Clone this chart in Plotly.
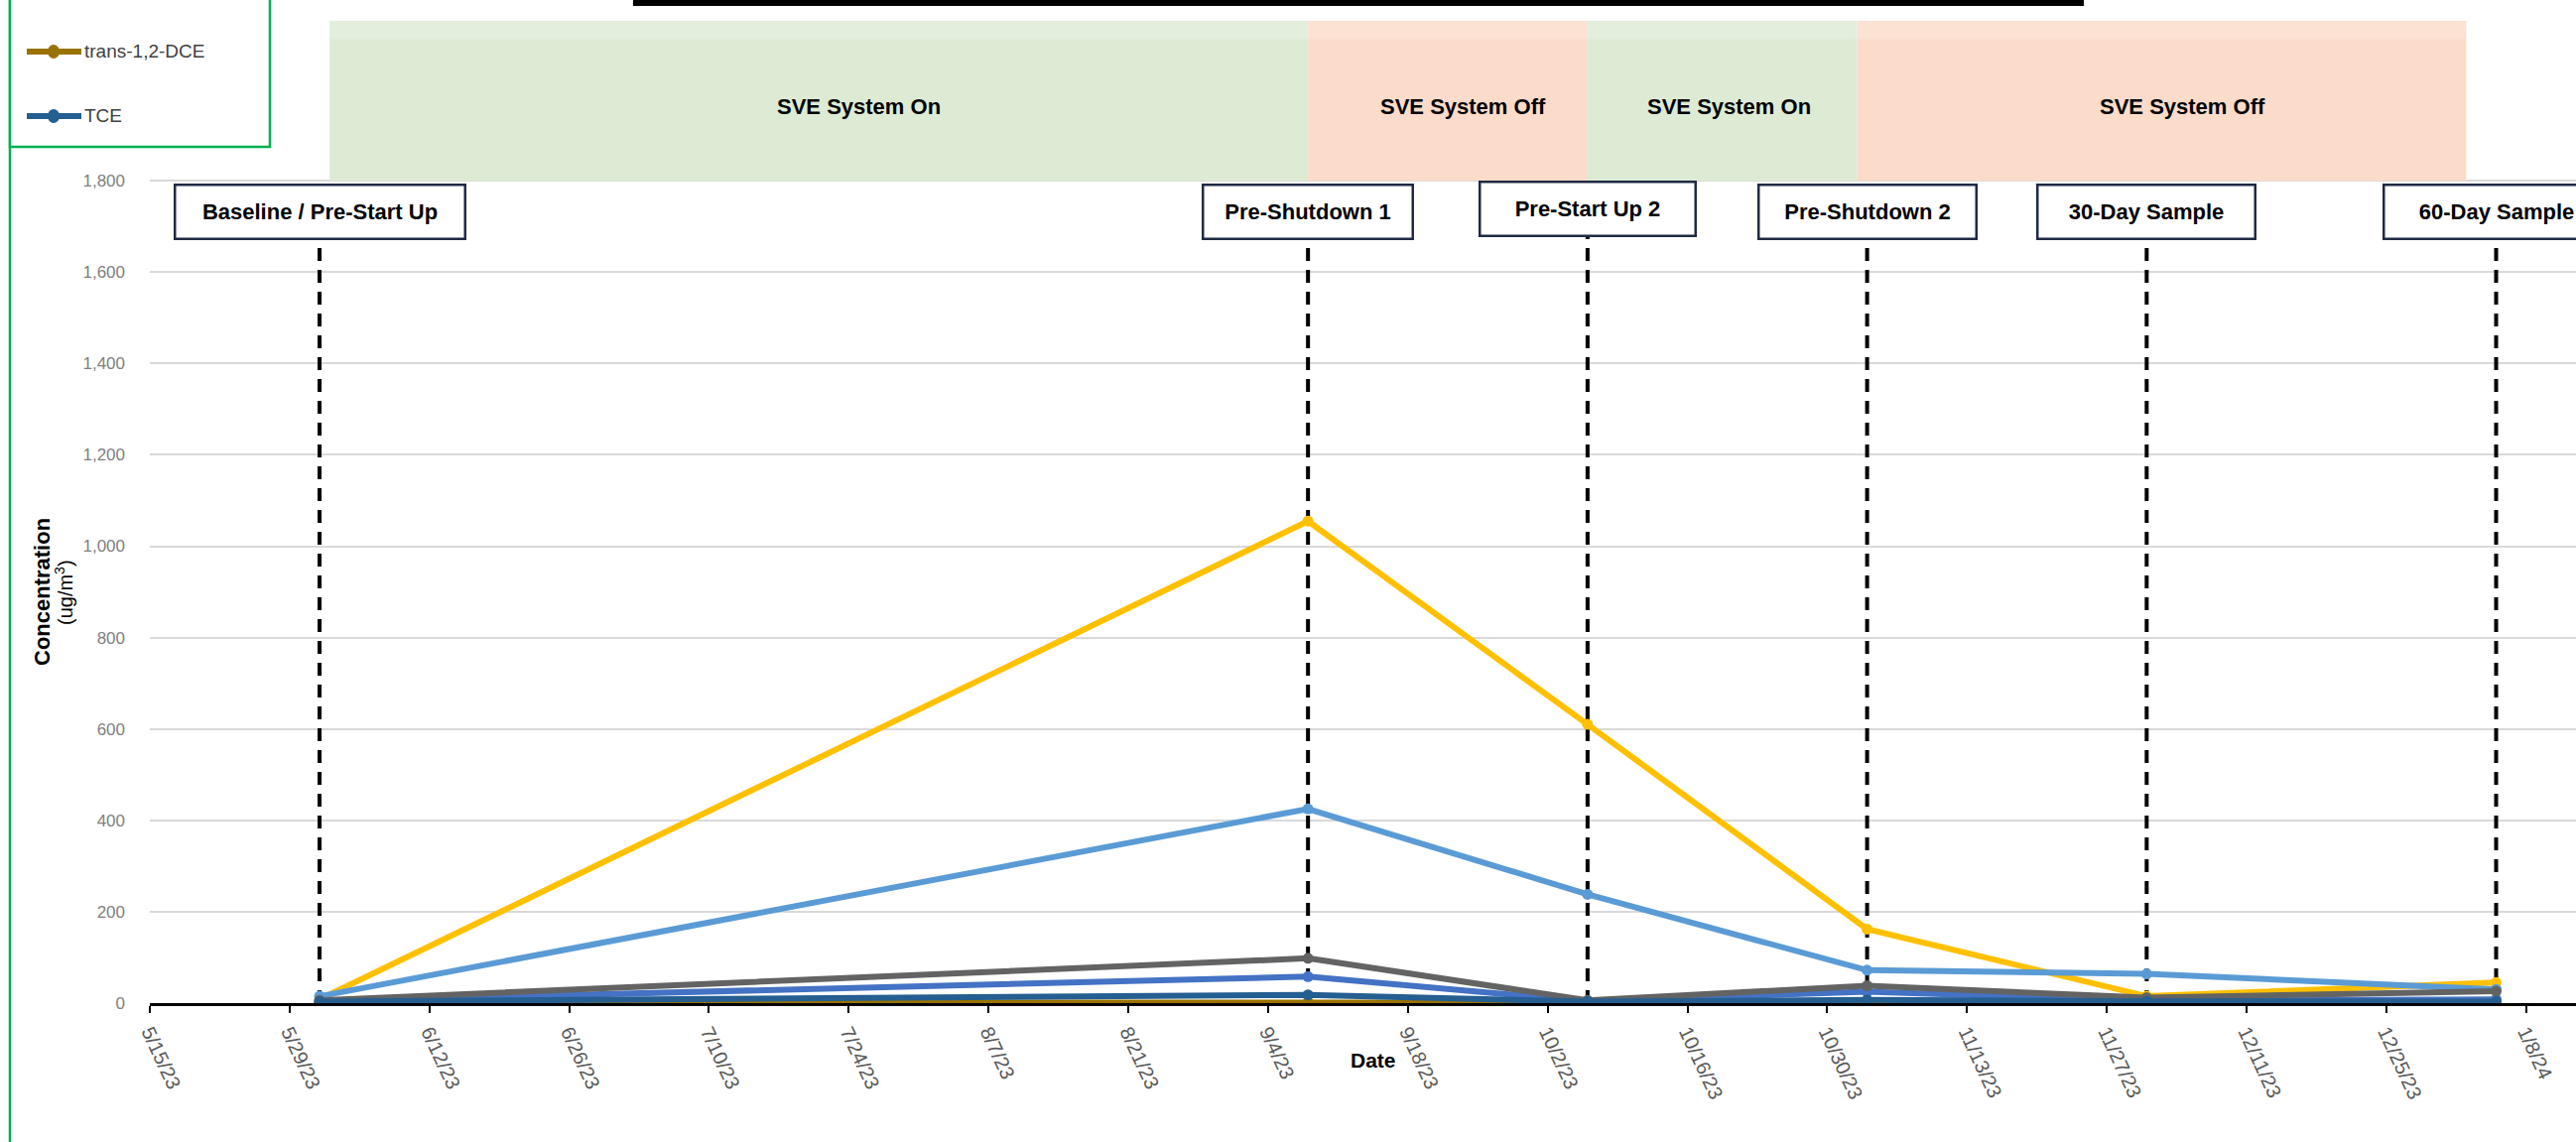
import plotly.graph_objects as go

# ---------------- data ----------------
sample_dates = ["2023-06-01", "2023-09-08", "2023-10-06", "2023-11-03", "2023-12-01", "2024-01-05"]
sample_labels = ["Baseline / Pre-Start Up", "Pre-Shutdown 1", "Pre-Start Up 2",
                 "Pre-Shutdown 2", "30-Day Sample", "60-Day Sample"]

series_names = ["Series 1", "Series 4", "Series 5", "Series 9", "trans-1,2-DCE", "TCE"]
series_colors = ["#4472C4", "#FFC000", "#5B9BD5", "#636363", "#997300", "#255E91"]
medblue_vals = [4, 58, 4, 25, 5, 8]
yellow_vals = [8, 1055, 610, 162, 15, 45]
lightblue_vals = [15, 425, 238, 72, 64, 30]
gray_vals = [6, 98, 6, 38, 12, 26]
dce_vals = [1, 2, 1, 1, 1, 1]
tce_vals = [3, 18, 3, 7, 4, 3]
series_values = [medblue_vals, yellow_vals, lightblue_vals, gray_vals, dce_vals, tce_vals]

phase_starts = ["2023-06-02", "2023-09-08", "2023-10-06", "2023-11-02"]
phase_ends = ["2023-09-08", "2023-10-06", "2023-11-02", "2024-01-02"]
phase_labels = ["SVE System On", "SVE System Off", "SVE System On", "SVE System Off"]
phase_label_x = ["2023-07-25", "2023-09-23 12:00", "2023-10-20 05:00", "2023-12-04 14:00"]
phase_colors = ["#DDEBD5", "#FBDCCA", "#DDEBD5", "#FBDCCA"]

y_ticks = [0, 200, 400, 600, 800, 1000, 1200, 1400, 1600, 1800]

# ---------------- layout geometry ----------------
FW, FH = 2596, 1151
L, R, T, B = 151, 0, 21, 140
W, H = FW - L - R, FH - T - B


def px_x(px):
    return (px - L) / W


def px_y(py):
    return (T + H - py) / H


FONT = "Liberation Sans, Arial, sans-serif"

fig = go.Figure()
for name, color, vals in zip(series_names, series_colors, series_values):
    fig.add_trace(go.Scatter(
        x=sample_dates, y=vals, name=name, mode="lines+markers",
        line=dict(color=color, width=6),
        marker=dict(color=color, size=11, symbol="circle"),
        showlegend=False,
    ))

shapes = []
# phase shading above the data area
for x0, x1, c in zip(phase_starts, phase_ends, phase_colors):
    shapes.append(dict(type="rect", xref="x", yref="y", x0=x0, x1=x1, y0=1800, y1=2150,
                       fillcolor=c, line=dict(width=0), layer="between"))
# faint lighter fade strip at the top
shapes.append(dict(type="rect", xref="x", yref="y", x0=phase_starts[0], x1=phase_ends[-1],
                   y0=2110, y1=2150, fillcolor="white", opacity=0.18,
                   line=dict(width=0), layer="between"))

# dashed sample-event lines
for d in sample_dates:
    shapes.append(dict(type="line", xref="x", yref="y", x0=d, x1=d, y0=0, y1=1700,
                       line=dict(color="black", width=4, dash="13px,9px"), layer="between"))

# top black bar (cut-off title underline)
shapes.append(dict(type="rect", xref="paper", yref="paper", x0=px_x(638), x1=px_x(2100),
                   y0=px_y(6), y1=px_y(-3), fillcolor="black", line=dict(width=0)))

# green frame (left) and legend box
shapes.append(dict(type="line", xref="paper", yref="paper", x0=px_x(10), x1=px_x(10),
                   y0=px_y(FH + 5), y1=px_y(-5), line=dict(color="#00B050", width=2.5)))
shapes.append(dict(type="rect", xref="paper", yref="paper", x0=px_x(10), x1=px_x(272),
                   y0=px_y(148), y1=px_y(-20), fillcolor="white",
                   line=dict(color="#00B050", width=2.5)))

annotations = []
# legend entries (manual, only the visible part of the legend)
legend_items = [("trans-1,2-DCE", "#997300", 52), ("TCE", "#255E91", 117)]
for txt, col, py in legend_items:
    shapes.append(dict(type="line", xref="paper", yref="paper", x0=px_x(27), x1=px_x(82),
                       y0=px_y(py), y1=px_y(py), line=dict(color=col, width=6)))
    shapes.append(dict(type="circle", xref="paper", yref="paper", xsizemode="pixel",
                       ysizemode="pixel", xanchor=px_x(54), yanchor=px_y(py),
                       x0=-6, x1=6, y0=-7, y1=7, fillcolor=col, line=dict(width=0)))
    annotations.append(dict(xref="paper", yref="paper", x=px_x(83), y=px_y(py),
                            xanchor="left", yanchor="middle", showarrow=False, text=txt,
                            font=dict(family=FONT, size=19, color="#404040")))

# phase labels
for x, t in zip(phase_label_x, phase_labels):
    annotations.append(dict(x=x, y=1962, xref="x", yref="y", text="<b>%s</b>" % t,
                            xanchor="center", yanchor="middle",
                            showarrow=False, font=dict(family=FONT, size=22, color="black")))

# sample event boxes
box_widths = [295, 214, 220, 222, 222, 230]
box_y = [1733, 1733, 1739, 1733, 1733, 1733]
for d, t, bw, by in zip(sample_dates, sample_labels, box_widths, box_y):
    annotations.append(dict(x=d, y=by, xref="x", yref="y", text="<b>%s</b>" % t,
                            showarrow=False, font=dict(family=FONT, size=22, color="black"),
                            bgcolor="white", bordercolor="#1F2A44", borderwidth=2.5,
                            borderpad=12, width=bw - 29, height=28, align="center",
                            xanchor="center", yanchor="middle"))

# axis titles
annotations.append(dict(xref="paper", yref="paper", x=px_x(42), y=px_y(597),
                        xanchor="center", yanchor="middle",
                        text="<b>Concentration</b>", textangle=-90, showarrow=False,
                        font=dict(family=FONT, size=22, color="black")))
annotations.append(dict(xref="paper", yref="paper", x=px_x(64), y=px_y(597),
                        xanchor="center", yanchor="middle",
                        text="(ug/m<sup>3</sup>)", textangle=-90, showarrow=False,
                        font=dict(family=FONT, size=20, color="black")))
annotations.append(dict(xref="paper", yref="paper", x=px_x(1384), y=px_y(1068),
                        xanchor="center", yanchor="middle",
                        text="<b>Date</b>", showarrow=False,
                        font=dict(family=FONT, size=21, color="black")))

fig.update_layout(
    width=FW, height=FH,
    margin=dict(l=L, r=R, t=T, b=B, autoexpand=False),
    paper_bgcolor="white", plot_bgcolor="white",
    showlegend=False,
    shapes=shapes, annotations=annotations,
    xaxis=dict(type="date", range=["2023-05-15", "2024-01-13"],
               tick0="2023-05-15", dtick=14 * 86400000, tickformat="%-m/%-d/%y",
               tickangle=65, ticks="outside", ticklen=7, tickwidth=2, tickcolor="black",
               showline=True, linecolor="black", linewidth=2.5, showgrid=False,
               zeroline=False,
               tickfont=dict(family=FONT, size=20, color="#595959")),
    yaxis=dict(range=[0, 2150], tickmode="array", tickvals=y_ticks, tickformat=",",
               showgrid=True, gridcolor="#D9D9D9", gridwidth=1.5, zeroline=False,
               showline=False, ticks="", ticklabelstandoff=24,
               tickfont=dict(family=FONT, size=17, color="#808080")),
)

fig.write_html("out.html")
